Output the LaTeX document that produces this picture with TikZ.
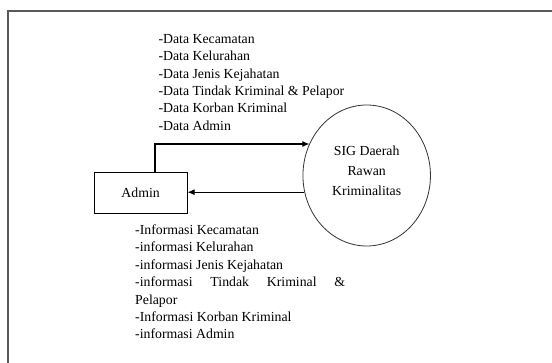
\documentclass[tikz,border=0pt]{standalone}
\usepackage{fontspec}
\setmainfont{Liberation Serif}
\usetikzlibrary{arrows.meta,shapes.geometric}
\tikzset{
  flow/.style={line width=1.1pt,-{Latex[length=7pt,width=6pt]}},
  entity/.style={draw,line width=0.9pt,minimum width=93pt,minimum height=41pt,inner sep=0pt,font=\fontsize{13.8}{17.5}\selectfont},
  proc/.style={draw,ellipse,line width=0.8pt,draw=black!80,minimum width=127.5pt,minimum height=141pt,inner sep=0pt},
  lbl/.style={align=left,inner sep=0pt,font=\fontsize{13.8}{17.4}\selectfont},
}
\begin{document}
\begin{tikzpicture}[x=1pt,y=-1pt]
\useasboundingbox (0,0) rectangle (552,363);
\fill[white] (0,0) rectangle (552,363);
\draw[line width=1.4pt,black!65] (8,370) -- (8,11) -- (560,11);
\node[entity] (admin) at (140.6,192.8) {Admin};
\node[proc] (sig) at (366.7,175.5) {};
\node[align=center,inner sep=0pt,font=\fontsize{13.8}{20}\selectfont] (sigtext) at (366.7,170.5) {SIG Daerah\\Rawan\\Kriminalitas};
\coordinate (c1) at (155,144);
\draw[flow] (admin.north -| c1) -- (c1) -- (c1 -| sig.151.1);
\draw[flow] (sig.195.2) -- (sig.195.2 -| admin.east);
\node[lbl,anchor=north west] (datain) at (158.3,34) {-Data Kecamatan\\-Data Kelurahan\\-Data Jenis Kejahatan\\-Data Tindak Kriminal \& Pelapor\\-Data Korban Kriminal\\-Data Admin};
\node[lbl,anchor=north west] (infoout) at (135,224.5) {-Informasi Kecamatan\\-informasi Kelurahan\\-informasi Jenis Kejahatan\\\makebox[210pt][s]{-informasi Tindak Kriminal \&}\\Pelapor\\-Informasi Korban Kriminal\\-informasi Admin};
\end{tikzpicture}
\end{document}
